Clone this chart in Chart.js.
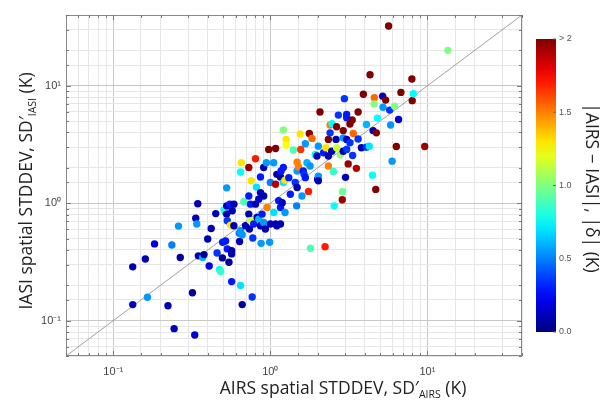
<!DOCTYPE html>
<html>
<head>
<meta charset="utf-8">
<script src="https://cdn.jsdelivr.net/npm/chart.js@4.4.1/dist/chart.umd.min.js"></script>
<style>
    body { margin: 0; background: #fff; }
    #wrap { width: 603px; height: 404px; position: relative; }
</style>
</head>
<body>
<div id="wrap"><canvas id="sdChart"></canvas></div>
<script>
// 1. DATA
const airsSd = [
    0.133, 0.133, 0.160, 0.165, 0.183, 0.223, 0.236, 0.244, 0.260, 0.267,
    0.319, 0.330, 0.335, 0.340, 0.345, 0.348, 0.371, 0.378, 0.399, 0.408,
    0.420, 0.449, 0.458, 0.475, 0.483, 0.495, 0.497, 0.519, 0.517, 0.506,
    0.527, 0.527, 0.527, 0.532, 0.532, 0.545, 0.552, 0.558, 0.567, 0.567, 0.567,
    0.572, 0.586, 0.586, 0.634, 0.637, 0.646, 0.646, 0.646, 0.653, 0.662,
    0.662, 0.678, 0.695, 0.729, 0.729, 0.729, 0.736, 0.747, 0.747, 0.755, 0.766, 0.773,
    0.784, 0.804, 0.804, 0.815, 0.824, 0.843, 0.843, 0.865, 0.865, 0.865,
    0.873, 0.886, 0.907, 0.907, 0.907, 0.930, 0.943, 0.953, 0.976,
    0.99, 1.0, 1.0, 1.05, 1.05, 1.08, 1.08, 1.08, 1.10, 1.10,
    1.13, 1.16, 1.16, 1.16, 1.17, 1.19, 1.21, 1.21, 1.21, 1.24, 1.24,
    1.26, 1.26, 1.31, 1.34, 1.40, 1.44, 1.47, 1.48,
    1.48, 1.48, 1.51, 1.55, 1.56, 1.59, 1.62,
    1.64, 1.67, 1.67, 1.71, 1.75, 1.77, 1.79, 1.80, 1.84, 1.93,
    1.98, 2.00, 2.02, 2.02, 2.02, 2.07, 2.18, 2.23, 2.26, 2.34,
    2.34, 2.34, 2.40, 2.40, 2.47, 2.46, 2.52, 2.55, 2.62, 2.64, 2.64, 2.71,
    2.79, 2.87, 2.88, 2.91, 2.91, 2.91, 2.96, 3.01, 3.06, 3.06, 3.06, 3.06, 3.13, 3.21, 3.21,
    3.32, 3.34, 3.37, 3.53, 3.62, 3.62, 3.80, 3.91, 4.09, 4.09,
    4.26, 4.31, 4.47, 4.51, 4.59, 4.58, 4.73, 4.69, 4.80, 5.19,
    5.21, 5.42, 5.66, 5.75, 5.83, 5.96, 6.18, 6.34, 6.55, 6.78,
    7.96, 8.00, 8.13, 9.61, 13.5
];
const iasiSd = [
    0.287, 0.137, 0.335, 0.158, 0.450, 0.134, 0.441, 0.0855, 0.638, 0.345,
    0.173, 0.0754, 0.746, 0.664, 0.990, 0.356, 0.345, 0.365, 0.495, 0.292,
    0.608, 0.815, 0.377, 0.273, 0.262, 0.342, 0.465, 0.477, 0.844, 0.877,
    1.35, 0.949, 0.807, 0.708, 0.408, 0.314, 0.981, 0.651, 0.215, 0.394, 0.370,
    0.861, 0.981, 0.642, 0.554, 0.472, 0.199, 0.582, 1.84, 2.21, 0.539,
    0.137, 1.03, 0.642, 0.807, 1.15, 2.01, 0.602, 0.981, 0.708, 1.55, 0.159, 0.505,
    0.664, 0.981, 2.39, 1.37, 0.757, 1.08, 0.732, 1.67, 1.23, 0.642,
    0.455, 0.807, 2.01, 1.15, 0.686, 0.602, 2.21, 0.920, 2.87,
    0.465, 0.664, 1.50, 2.21, 0.834, 2.92, 1.45, 0.664, 1.76, 0.642,
    1.05, 1.67, 0.920, 0.664, 1.88, 1.01, 4.20, 2.01, 1.50, 1.57, 0.834,
    3.49, 3.13, 1.65, 1.19, 2.84, 1.50, 0.949, 1.36,
    1.88, 2.23, 2.03, 3.88, 2.87, 1.15, 1.88,
    1.76, 3.21, 1.65, 2.21, 1.26, 3.92, 2.07, 0.413, 3.56, 2.60,
    2.52, 1.60, 3.06, 1.70, 1.55, 5.98, 2.69, 0.426, 2.96, 3.49,
    2.07, 2.52, 3.97, 4.63, 4.76, 2.77, 1.86, 0.949, 3.49, 4.47, 2.96, 5.62,
    2.58, 1.07, 1.25, 4.15, 3.60, 2.77, 7.76, 1.66, 5.68, 5.33, 3.49, 2.87, 2.16, 4.72, 3.27,
    5.10, 2.55, 3.92, 1.98, 5.98, 3.52, 2.96, 8.47, 4.67, 3.00,
    3.06, 12.4, 1.73, 4.15, 7.91, 7.00, 3.97, 1.31, 5.30, 8.15,
    6.55, 7.54, 32.2, 6.20, 4.63, 2.28, 6.70, 3.04, 5.15, 8.77,
    11.4, 7.46, 8.55, 3.04, 20.0
];
// |AIRS - IASI| in K, used for the colour
const deltaK = [
    0.1, 0.15, 0.1, 0.55, 0.2, 0.1, 0.5, 0.1, 0.55, 0.05,
    0.05, 0.15, 0.1, 0.55, 0.1, 0.1, 0.6, 0.05, 0.1, 0.2,
    0.1, 0.1, 0.35, 0.75, 0.85, 0.05, 0.3, 0.3, 0.5, 0.8,
    0.55, 0.1, 0.1, 0.35, 0.3, 0.05, 0.3, 1.3, 0.3, 0.1, 0.1,
    0.1, 0.1, 0.1, 0.5, 0.1, 0.7, 0.55, 0.75, 1.3, 0.55,
    0.05, 0.9, 0.1, 0.1, 0.3, 1.95, 0.1, 0.3, 1.15, 1.3, 0.35, 0.35,
    0.3, 0.1, 1.7, 0.7, 0.1, 0.15, 0.6, 0.3, 0.1, 0.1,
    0.55, 0.3, 0.1, 0.1, 0.55, 0.1, 0.55, 1.5, 2.0,
    0.55, 0.1, 0.5, 0.55, 0.7, 2.0, 1.9, 0.1, 0.1, 0.1,
    0.3, 0.05, 0.3, 0.1, 0.3, 0.1, 1.0, 0.3, 0.7, 1.3, 0.55,
    1.3, 1.25, 0.3, 0.3, 0.9, 0.35, 0.5, 0.1,
    0.55, 1.5, 1.5, 1.3, 1.65, 0.55, 0.3,
    0.35, 0.55, 0.3, 0.6, 1.7, 2.0, 0.55, 0.9, 1.55, 0.75,
    0.1, 0.1, 0.55, 0.55, 0.1, 2.0, 0.3, 1.7, 1.3, 2.0,
    1.5, 0.1, 0.35, 1.5, 0.75, 0.1, 0.85, 0.75, 0.1, 2.0, 1.15, 0.35,
    1.05, 1.95, 0.95, 2.0, 0.55, 0.1, 0.35, 0.1, 0.3, 0.3, 0.1, 0.35, 1.95, 2.0, 0.35,
    2.0, 0.35, 1.55, 1.9, 2.0, 0.35, 0.1, 2.0, 0.6, 0.35,
    0.7, 2.0, 0.75, 0.1, 1.55, 1.0, 2.0, 2.0, 0.75, 0.1,
    0.55, 2.0, 2.0, 0.35, 0.55, 0.55, 1.0, 2.0, 0.15, 2.0,
    2.0, 2.0, 0.75, 1.95, 1.0
];
const axisLimits = [0.05, 40];
const oneToOne = [0.05, 40];
const colorbarValues = [0, 0.5, 1, 1.5, 2];
const colorbarLabels = ['0.0', '0.5', '1.0', '1.5', '> 2'];
const deltaMax = 2;

// 2. JET COLORMAP
function jet(v) {
    const t = Math.min(Math.max(v / deltaMax, 0), 1);
    const c = k => Math.round(255 * Math.min(Math.max(1.5 - Math.abs(4 * t - k), 0), 1));
    return `rgb(${c(3)},${c(2)},${c(1)})`;
}

function isDecade(v) {
    if (!v) return false;
    const l = Math.log10(v);
    return Math.abs(l - Math.round(l)) < 1e-6;
}

function powerLabel(v) {
    const sup = { '-': '\u207B', '0': '\u2070', '1': '\u00B9', '2': '\u00B2' };
    const e = String(Math.round(Math.log10(v)));
    return '10' + e.split('').map(ch => sup[ch]).join('');
}

// draws a line of text made of parts with different sizes (for the subscripts)
function drawParts(ctx, parts, cx, baseline) {
    let total = 0;
    parts.forEach(p => {
        ctx.font = `${p.size}px "Open Sans"`;
        p.w = ctx.measureText(p.text).width;
        total += p.w;
    });
    let x = cx - total / 2;
    parts.forEach(p => {
        ctx.font = `${p.size}px "Open Sans"`;
        ctx.fillText(p.text, x, baseline + (p.dy || 0));
        x += p.w;
    });
}

// 3. PLUGINS: frame with inner ticks, axis titles, colorbar
const framePlugin = {
    id: 'frame',
    afterDraw(chart) {
        const { ctx, chartArea: a, scales } = chart;
        ctx.save();
        ctx.strokeStyle = '#8a8a8a';
        ctx.lineWidth = 1;
        ctx.strokeRect(a.left + 0.5, a.top + 0.5, a.right - a.left - 1, a.bottom - a.top - 1);

        // small inside ticks on all four sides
        ctx.strokeStyle = '#777';
        scales.x.ticks.forEach(t => {
            const px = Math.round(scales.x.getPixelForValue(t.value)) + 0.5;
            const len = isDecade(t.value) ? 5 : 3;
            ctx.beginPath();
            ctx.moveTo(px, a.bottom); ctx.lineTo(px, a.bottom - len);
            ctx.moveTo(px, a.top); ctx.lineTo(px, a.top + len);
            ctx.stroke();
        });
        scales.y.ticks.forEach(t => {
            const py = Math.round(scales.y.getPixelForValue(t.value)) + 0.5;
            const len = isDecade(t.value) ? 5 : 3;
            ctx.beginPath();
            ctx.moveTo(a.left, py); ctx.lineTo(a.left + len, py);
            ctx.moveTo(a.right, py); ctx.lineTo(a.right - len, py);
            ctx.stroke();
        });

        // axis titles
        ctx.fillStyle = '#222';
        ctx.textBaseline = 'alphabetic';
        ctx.textAlign = 'left';
        drawParts(ctx, [
            { text: 'AIRS spatial STDDEV, SD\u2032', size: 17.5 },
            { text: 'AIRS', size: 10.5, dy: 4 },
            { text: ' (K)', size: 17.5 }
        ], 343, 394);

        ctx.save();
        ctx.translate(32, 191);
        ctx.rotate(-Math.PI / 2);
        drawParts(ctx, [
            { text: 'IASI spatial STDDEV, SD\u2032', size: 17.5 },
            { text: 'IASI', size: 10.5, dy: 4 },
            { text: ' (K)', size: 17.5 }
        ], 0, 0);
        ctx.restore();

        // colorbar
        const cb = { left: 536, top: 39, width: 20, height: 293 };
        const grad = ctx.createLinearGradient(0, cb.top + cb.height, 0, cb.top);
        for (let i = 0; i <= 20; i++) grad.addColorStop(i / 20, jet(deltaMax * i / 20));
        ctx.fillStyle = grad;
        ctx.fillRect(cb.left, cb.top, cb.width, cb.height);

        ctx.font = '9px "Liberation Sans"';
        ctx.fillStyle = '#555';
        ctx.strokeStyle = '#666';
        ctx.textBaseline = 'middle';
        colorbarValues.forEach((v, i) => {
            const py = cb.top + cb.height - (v / deltaMax) * cb.height;
            ctx.beginPath();
            ctx.moveTo(cb.left + cb.width - 3, py); ctx.lineTo(cb.left + cb.width, py);
            ctx.stroke();
            ctx.fillText(colorbarLabels[i], cb.left + cb.width + 3, py);
        });

        ctx.save();
        ctx.translate(586, 188);
        ctx.rotate(Math.PI / 2);
        ctx.fillStyle = '#222';
        ctx.textBaseline = 'alphabetic';
        drawParts(ctx, [{ text: '|AIRS \u2212 IASI|, |\u03B4| (K)', size: 17.5 }], 0, 0);
        ctx.restore();

        ctx.restore();
    }
};

// 4. CHART
function gridColor(c) {
    return c.tick && isDecade(c.tick.value) ? '#c8c8c8' : '#e6e6e6';
}

document.addEventListener('DOMContentLoaded', () => {
    const ctx = document.getElementById('sdChart');
    const points = airsSd.map((x, i) => ({ x: x, y: iasiSd[i] }));

    new Chart(ctx, {
        type: 'scatter',
        data: {
            datasets: [
                {
                    data: points,
                    pointBackgroundColor: deltaK.map(jet),
                    pointBorderWidth: 0,
                    pointRadius: 3.7,
                    order: 0
                },
                {
                    type: 'line',
                    data: oneToOne.map(v => ({ x: v, y: v })),
                    borderColor: '#a0a0a0',
                    borderWidth: 1,
                    pointRadius: 0,
                    order: 1
                }
            ]
        },
        options: {
            responsive: true,
            maintainAspectRatio: false,
            animation: false,
            layout: { padding: { left: 0, top: 15, right: 81, bottom: 0 } },
            plugins: { legend: { display: false }, tooltip: { enabled: false } },
            scales: {
                x: {
                    type: 'logarithmic',
                    min: axisLimits[0],
                    max: axisLimits[1],
                    grid: { color: gridColor, drawTicks: false },
                    border: { display: false },
                    ticks: {
                        autoSkip: false,
                        maxRotation: 0,
                        padding: 9,
                        color: '#444',
                        font: { family: 'Liberation Sans', size: 11 },
                        callback: v => isDecade(v) ? powerLabel(v) : ''
                    },
                    afterFit: s => { s.height = 48; }
                },
                y: {
                    type: 'logarithmic',
                    min: axisLimits[0],
                    max: axisLimits[1],
                    grid: { color: gridColor, drawTicks: false },
                    border: { display: false },
                    ticks: {
                        autoSkip: false,
                        padding: 5,
                        color: '#444',
                        font: { family: 'Liberation Sans', size: 11 },
                        callback: v => isDecade(v) ? powerLabel(v) : ''
                    },
                    afterFit: s => { s.width = 66; }
                }
            }
        },
        plugins: [framePlugin]
    });
});
</script>
</body>
</html>
